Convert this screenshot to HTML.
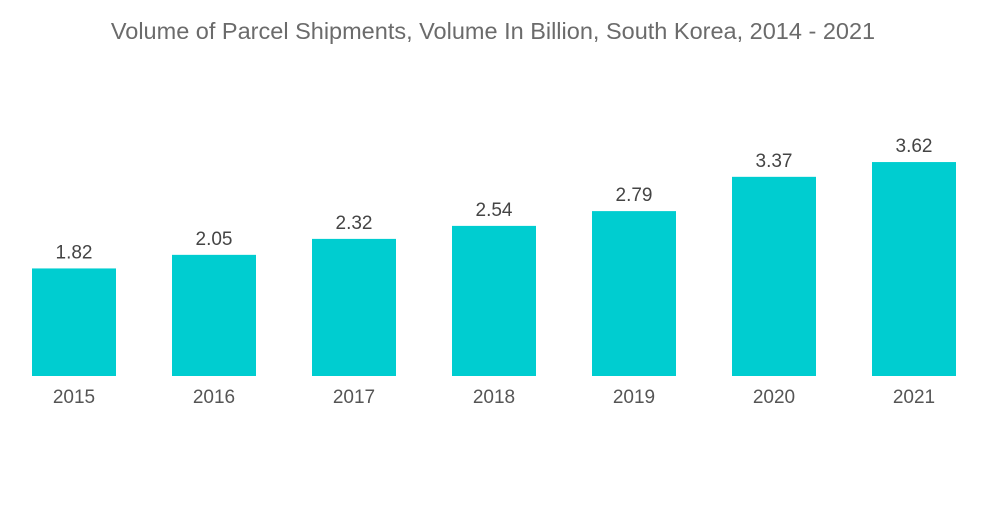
<!DOCTYPE html>
<html><head><meta charset="utf-8"><style>
body{margin:0;background:#fff;font-family:"Liberation Sans",sans-serif}
</style></head><body>
<svg width="1000" height="504" xmlns="http://www.w3.org/2000/svg">
<text x="493" y="39" text-anchor="middle" font-size="23.5" fill="#6b6b6b">Volume of Parcel Shipments, Volume In Billion, South Korea, 2014 - 2021</text>
<g id="bars"></g>
</svg>
<script>
const categories=["2015","2016","2017","2018","2019","2020","2021"];
const values=[1.82,2.05,2.32,2.54,2.79,3.37,3.62];
const valueLabels=["1.82","2.05","2.32","2.54","2.79","3.37","3.62"];
const baseY=376, scale=59.1, x0=32, step=140, bw=84;
const yPos=v=>baseY-v*scale;
const xPos=i=>x0+i*step;
const g=document.getElementById('bars');
const ns="http://www.w3.org/2000/svg";
categories.forEach((c,i)=>{
  const r=document.createElementNS(ns,'rect');
  r.setAttribute('x',xPos(i));r.setAttribute('y',yPos(values[i]));
  r.setAttribute('width',bw);r.setAttribute('height',baseY-yPos(values[i]));
  r.setAttribute('fill','#00cdd0');
  
  
  g.appendChild(r);
  const t=document.createElementNS(ns,'text');
  t.setAttribute('x',xPos(i)+bw/2);t.setAttribute('y',yPos(values[i])-10);
  t.setAttribute('text-anchor','middle');t.setAttribute('font-size','19');t.setAttribute('fill','#444');
  t.textContent=valueLabels[i];
  
  
  g.appendChild(t);
  const a=document.createElementNS(ns,'text');
  a.setAttribute('x',xPos(i)+bw/2);a.setAttribute('y',baseY+27);
  a.setAttribute('text-anchor','middle');a.setAttribute('font-size','19');a.setAttribute('fill','#555');
  a.textContent=c;
  
  
  g.appendChild(a);
});
</script>
</body></html>
